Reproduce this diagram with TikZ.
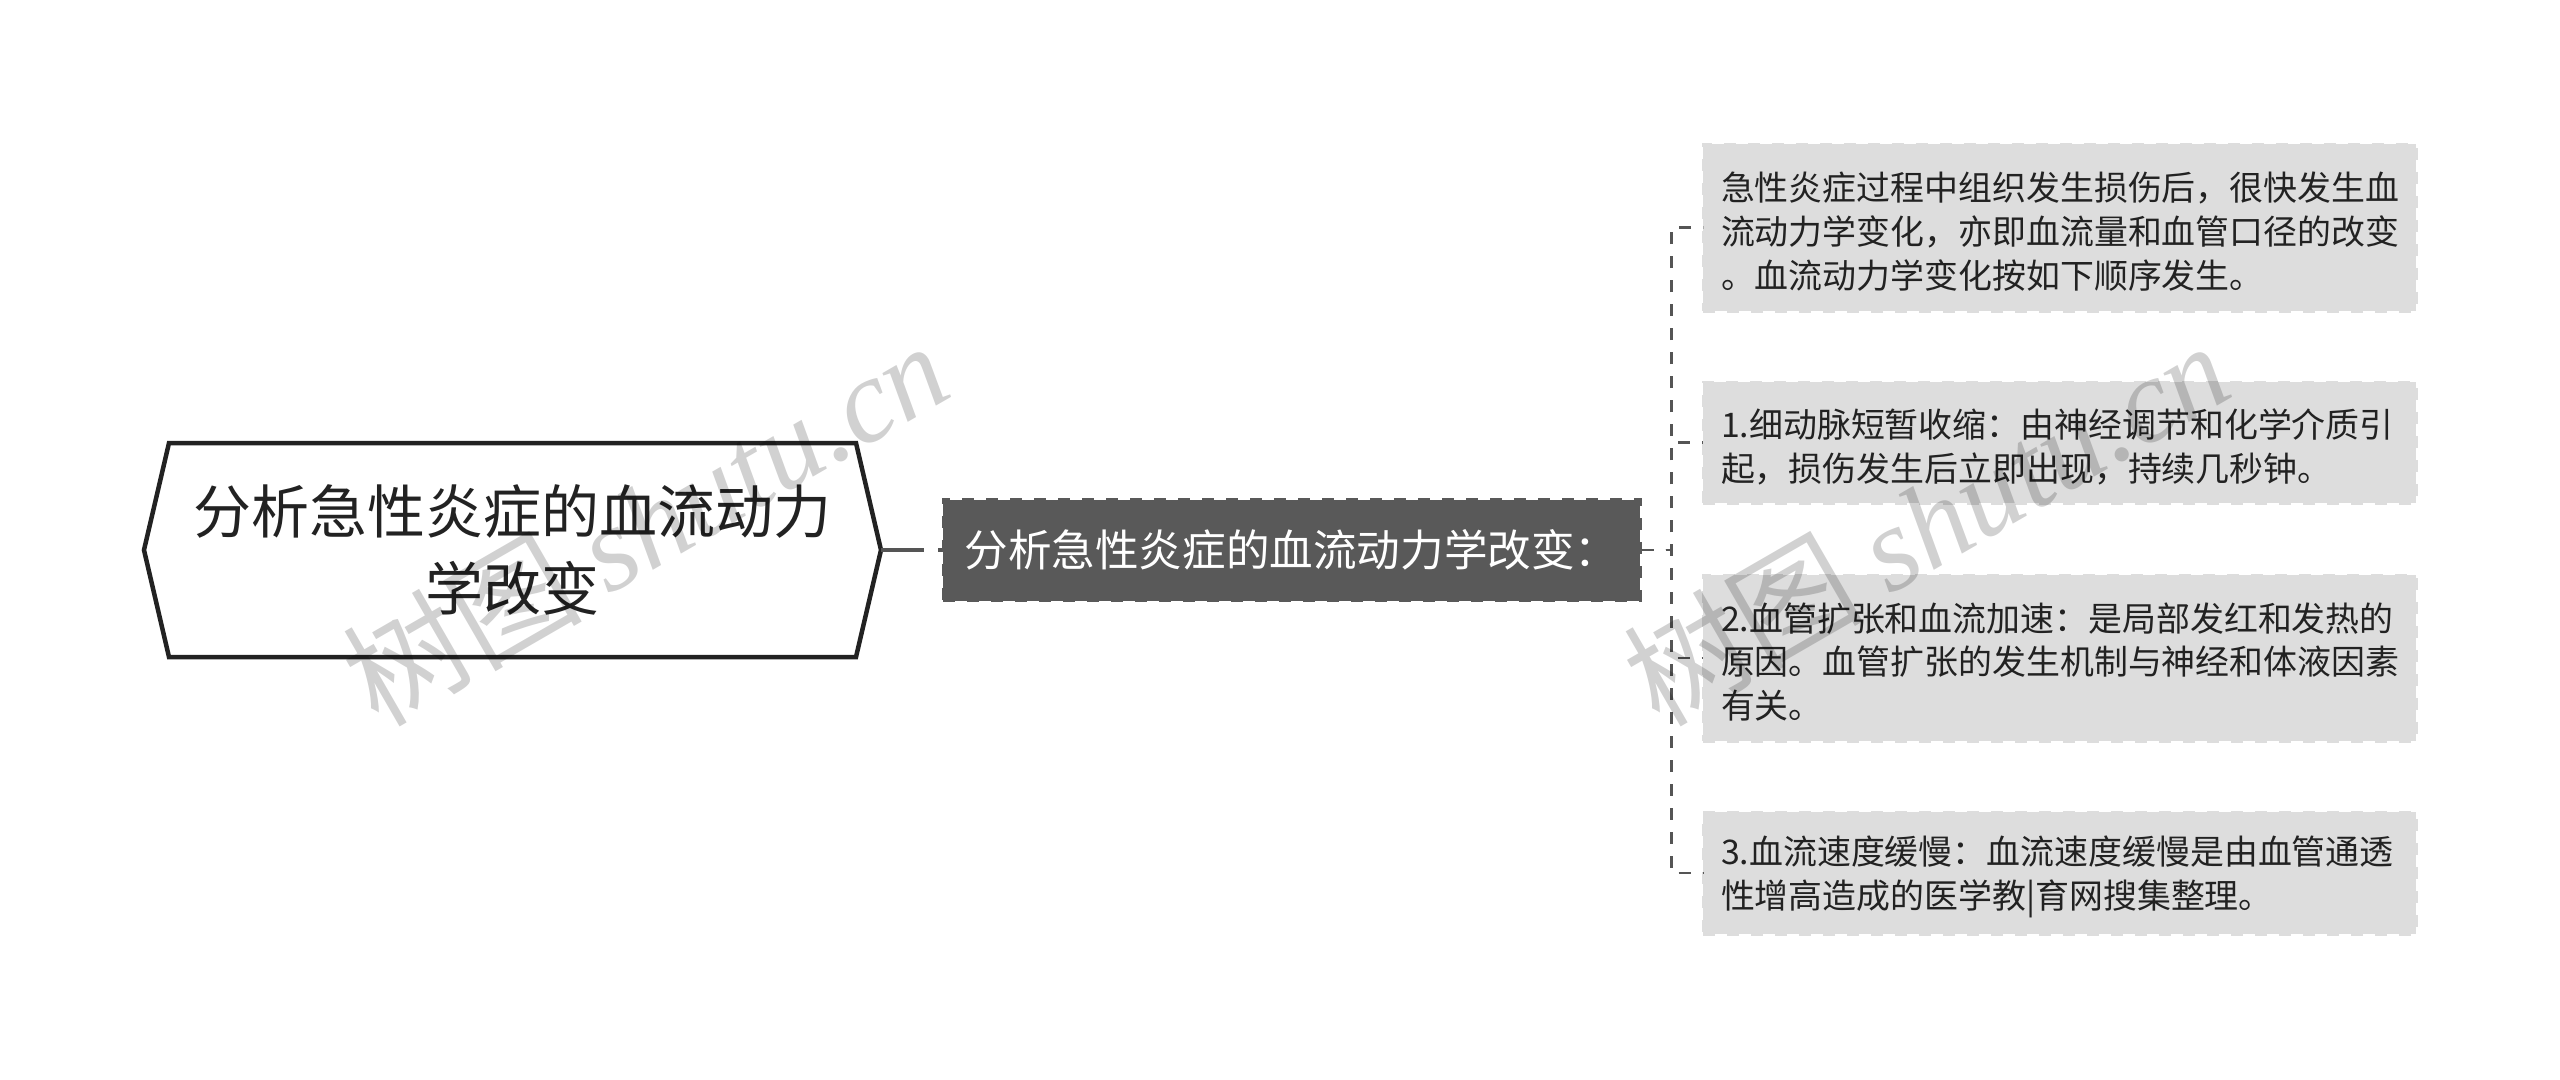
\documentclass[tikz,border=0pt]{standalone}
\usepackage{fontspec}
\setmainfont{Noto Sans CJK SC}
\newfontfamily\markfont[ItalicFont=Liberation Serif Italic]{Liberation Serif}
\usetikzlibrary{shapes.symbols}
\definecolor{darkbox}{HTML}{595959}
\definecolor{lightbox}{HTML}{DDDDDD}
\definecolor{linkgray}{HTML}{555555}
\definecolor{rootline}{HTML}{222222}
\tikzstyle{rootnode} = [signal, signal to=west and east, signal pointer angle=153.7, draw=rootline, line width=0.045cm, fill=white, minimum width=7.37cm, minimum height=2.14cm, outer sep=0pt, inner sep=0pt, align=center, text=rootline, font=\fontsize{16.5pt}{21.9pt}\selectfont]
\tikzstyle{mainnode} = [rectangle, draw=darkbox, fill=darkbox, dash pattern=on 0.12cm off 0.12cm, line width=0.03cm, minimum width=6.97cm, minimum height=1.01cm, text=white, font=\fontsize{12.4pt}{15pt}\selectfont]
\tikzstyle{leafnode} = [rectangle, draw=lightbox, fill=lightbox, dash pattern=on 0.12cm off 0.12cm, line width=0.03cm, inner xsep=0.18cm, inner ysep=0pt, outer sep=0pt, text width=6.77cm, align=left, text=rootline, execute at end node={\endgraf\vspace*{-0.08cm}}, font=\fontsize{9.65pt}{12.5pt}\selectfont]
\tikzstyle{link} = [draw=linkgray, line width=0.025cm, dash pattern=on 0.12cm off 0.12cm]
\tikzstyle{watermark} = [rotate=30, text=black, opacity=0.18, font=\fontsize{34pt}{34pt}\selectfont]

\begin{document}
\begin{tikzpicture}
        \useasboundingbox (0, 0) rectangle (25.6, -10.79);

        \node[rootnode] at (5.125, -5.5) (Root) {分析急性炎症的血流动力\\学改变};
        \node[mainnode] at (12.915, -5.5) (Main) {分析急性炎症的血流动力学改变：};

        \node[leafnode, minimum height=1.67cm] at (20.595, -2.275) (LeafOne) {急性炎症过程中组织发生损伤后，很快发生血\\流动力学变化，亦即血流量和血管口径的改变\\。血流动力学变化按如下顺序发生。};
        \node[leafnode, minimum height=1.21cm] at (20.595, -4.425) (LeafTwo) {1.细动脉短暂收缩：由神经调节和化学介质引\\起，损伤发生后立即出现，持续几秒钟。};
        \node[leafnode, minimum height=1.66cm] at (20.595, -6.58) (LeafThree) {2.血管扩张和血流加速：是局部发红和发热的\\原因。血管扩张的发生机制与神经和体液因素\\有关。};
        \node[leafnode, minimum height=1.22cm] at (20.595, -8.73) (LeafFour) {3.血流速度缓慢：血流速度缓慢是由血管通透\\性增高造成的医学教|育网搜集整理。};

        \draw[draw=linkgray, line width=0.035cm, dash pattern=on 0.43cm off 0.14cm] (Root.east) -- (Main.west);
        \draw[link] (Main.east) -- ++(0.3, 0) |- (LeafOne.west);
        \draw[link] (Main.east) -- ++(0.3, 0) |- (LeafTwo.west);
        \draw[link] (Main.east) -- ++(0.3, 0) |- (LeafThree.west);
        \draw[link] (Main.east) -- ++(0.3, 0) |- (LeafFour.west);

        \node[watermark] at (6.45, -5.22) (MarkLeft) {树图 {\markfont\itshape shutu.cn}};
        \node[watermark] at (19.26, -5.22) (MarkRight) {树图 {\markfont\itshape shutu.cn}};
\end{tikzpicture}
\end{document}
